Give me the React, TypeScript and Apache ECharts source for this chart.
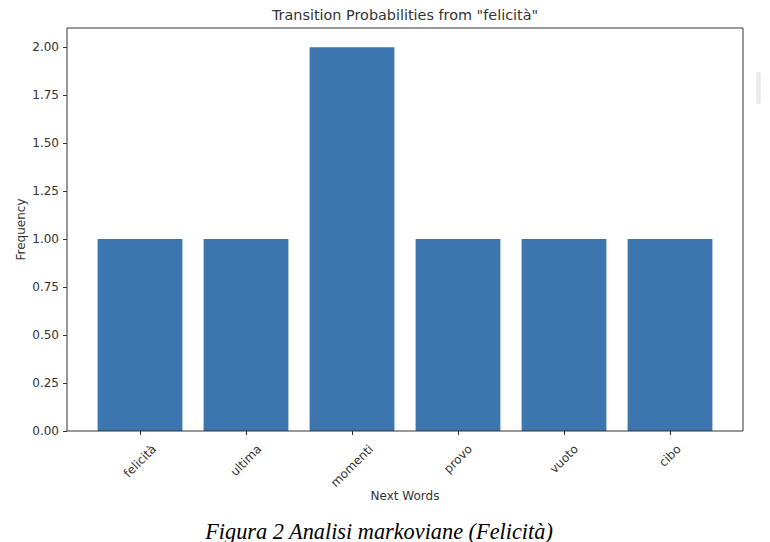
import React, { useEffect, useRef } from 'react';
import * as echarts from 'echarts';

const categories = ['felicità', 'ultima', 'momenti', 'provo', 'vuoto', 'cibo'];
const frequencies = [1, 1, 2, 1, 1, 1];
const yTicks = [0, 0.25, 0.5, 0.75, 1, 1.25, 1.5, 1.75, 2];
const titleText = 'Transition Probabilities from "felicità"';
const xName = 'Next Words';
const yName = 'Frequency';
const caption = 'Figura 2 Analisi markoviane (Felicità)';

const SANS = '"DejaVu Sans", sans-serif';
const TEXT = '#333333';
const LABEL_SIZE = 12;

function measure(t: string, font: string): number {
  const ctx = document.createElement('canvas').getContext('2d');
  if (!ctx) return t.length * 7;
  ctx.font = font;
  return ctx.measureText(t).width;
}

export default function App() {
  const ref = useRef<HTMLDivElement>(null);
  useEffect(() => {
    if (!ref.current) return;
    const chart = echarts.init(ref.current, undefined, { renderer: 'svg' });
    const widths = categories.map((c) => measure(c, `${LABEL_SIZE}px "DejaVu Sans"`));
    const xData = categories.map((c, i) => ({
      value: c,
      textStyle: {
        padding: [0, widths[i] * 0.5, 0, 0],
        align: 'center',
        verticalAlign: 'middle',
      },
    }));
    const rich: Record<string, any> = {
      t: { color: TEXT, fontSize: LABEL_SIZE, fontFamily: SANS, lineHeight: 14 },
    };
    widths.forEach((w, i) => {
      rich['s' + i] = { height: w * 0.5, lineHeight: w * 0.5, fontSize: 1 };
    });
    chart.setOption({
      animation: false,
      backgroundColor: '#ffffff',
      textStyle: { fontFamily: SANS },
      grid: { left: 87, right: 47, top: 28, bottom: 111, containLabel: false },
      xAxis: {
        type: 'category',
        data: xData,
        name: xName,
        nameLocation: 'middle',
        nameGap: 59,
        nameMoveOverlap: false,
        nameTextStyle: { color: TEXT, fontSize: LABEL_SIZE, fontFamily: SANS },
        axisLine: { show: false },
        axisTick: { show: true, alignWithLabel: true, length: 4, lineStyle: { color: TEXT } },
        axisLabel: {
          rotate: 45,
          align: 'center',
          verticalAlign: 'middle',
          margin: 16,
          color: TEXT,
          fontSize: LABEL_SIZE,
          fontFamily: SANS,
          interval: 0,
          formatter: (v: string, i: number) => `{s${i}| }\n{t|${v}}`,
          rich,
        },
        splitLine: { show: false },
      },
      yAxis: {
        type: 'value',
        min: 0,
        max: 2.1,
        offset: 20,
        name: yName,
        nameLocation: 'middle',
        nameGap: 40,
        nameMoveOverlap: false,
        nameTextStyle: { color: TEXT, fontSize: LABEL_SIZE, fontFamily: SANS },
        axisLine: { show: false },
        axisTick: { show: true, length: 4, lineStyle: { color: TEXT }, customValues: yTicks },
        axisLabel: {
          color: TEXT,
          fontSize: LABEL_SIZE,
          fontFamily: SANS,
          margin: 8,
          customValues: yTicks,
          formatter: (v: number) => v.toFixed(2),
        },
        splitLine: { show: false },
      },
      series: [
        {
          type: 'bar',
          data: frequencies,
          barWidth: '80%',
          itemStyle: { color: '#3d75ae' },
        },
      ],
      graphic: [
        {
          type: 'rect',
          shape: { x: 67, y: 28, width: 676, height: 403 },
          style: { fill: 'none', stroke: '#333333', lineWidth: 1 },
          z: 10,
          silent: true,
        },
        {
          type: 'text',
          x: 405,
          y: 15,
          style: {
            text: titleText,
            fill: TEXT,
            fontSize: 14.4,
            fontFamily: SANS,
            align: 'center',
            verticalAlign: 'middle',
          },
        },
        {
          type: 'text',
          x: 379,
          y: 531,
          style: {
            text: caption,
            fill: '#000000',
            fontSize: 22.3,
            fontStyle: 'italic',
            fontFamily: '"Liberation Serif", "Times New Roman", serif',
            align: 'center',
            verticalAlign: 'middle',
          },
        },
        {
          type: 'rect',
          shape: { x: 757, y: 73, width: 3, height: 30 },
          style: { fill: '#f2f2f2', stroke: '#dddddd', lineWidth: 1 },
          silent: true,
        },
      ],
    });
    return () => chart.dispose();
  }, []);
  return (
    <div
      ref={ref}
      style={{ position: 'fixed', left: 0, top: 0, width: 770, height: 542, background: '#fff' }}
    />
  );
}
